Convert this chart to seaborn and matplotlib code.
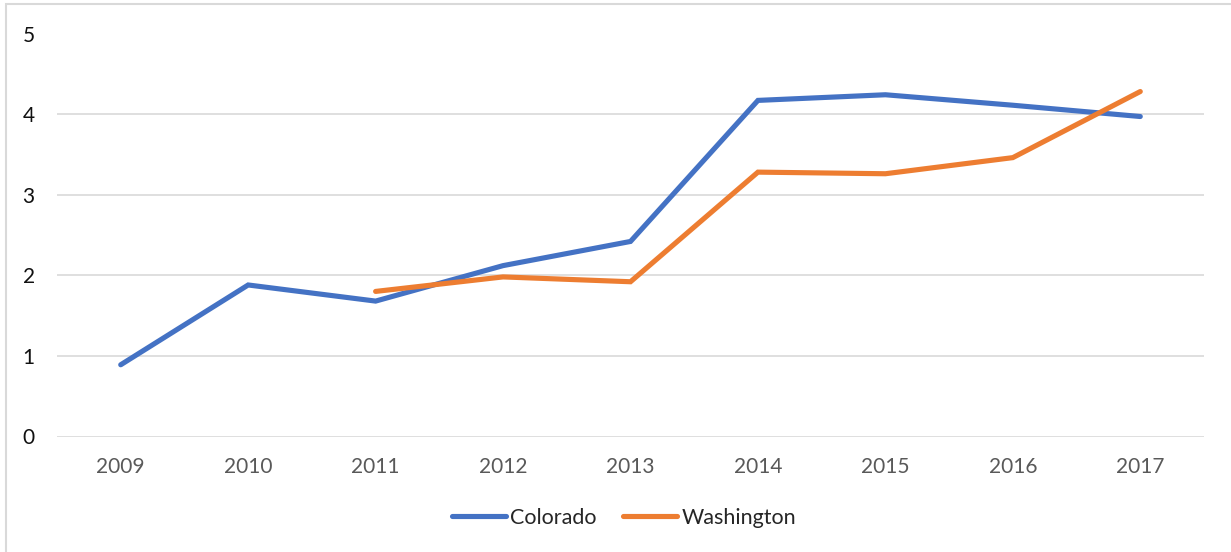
import matplotlib
matplotlib.use('Agg')
import matplotlib.pyplot as plt
import numpy as np
import pandas as pd
import seaborn as sns
from matplotlib.patches import Rectangle

years = [2009, 2010, 2011, 2012, 2013, 2014, 2015, 2016, 2017]
colorado = [0.89, 1.88, 1.68, 2.12, 2.42, 4.17, 4.24, 4.11, 3.97]
washington = [np.nan, np.nan, 1.80, 1.98, 1.92, 3.28, 3.26, 3.46, 4.28]
y_ticks = [0, 1, 2, 3, 4, 5]

df = pd.DataFrame({
    'year': years * 2,
    'value': colorado + washington,
    'state': ['Colorado'] * len(years) + ['Washington'] * len(years),
}).dropna()

sns.set_style('white')
plt.rcParams['font.family'] = ['Lato', 'DejaVu Sans']

fig = plt.figure(figsize=(12.31, 5.52), dpi=100)
ax = fig.add_axes([57 / 1231, 1 - 436.5 / 552, (1204 - 57) / 1231, (436.5 - 33.5) / 552])

sns.lineplot(data=df, x='year', y='value', hue='state',
             palette={'Colorado': '#4472C4', 'Washington': '#ED7D31'},
             linewidth=3.7, ax=ax, solid_capstyle='round', solid_joinstyle='miter')

ax.set_xlim(years[0] - 0.5, years[-1] + 0.5)
ax.set_ylim(0, 5)
ax.set_xticks(years)
ax.set_xticklabels([str(y) for y in years], color='#595959', fontsize=15)
ax.set_yticks(y_ticks)
ax.set_yticklabels([str(t) for t in y_ticks], color='#111111', fontsize=15)
ax.tick_params(axis='x', length=0, pad=15)
ax.tick_params(axis='y', length=0, pad=16)
ax.grid(axis='y', color='#D9D9D9', linewidth=1.2)
ax.set_axisbelow(True)
for s in ax.spines.values():
    s.set_visible(False)
ax.set_xlabel('')
ax.set_ylabel('')

handles, labels = ax.get_legend_handles_labels()
ax.legend(handles, labels, loc='center', bbox_to_anchor=(624 / 1231, 1 - 518 / 552),
          bbox_transform=fig.transFigure, ncol=2, frameon=False,
          fontsize=15.5, handlelength=2.5, handletextpad=0.2, columnspacing=1.25)

fig.patches.append(Rectangle((6 / 1231, -0.1), 1.1, 1.1 - 5 / 552 + 0.001,
                             transform=fig.transFigure, fill=False,
                             edgecolor='#D9D9D9', linewidth=1.5))

fig.savefig('out.png', dpi=100)
